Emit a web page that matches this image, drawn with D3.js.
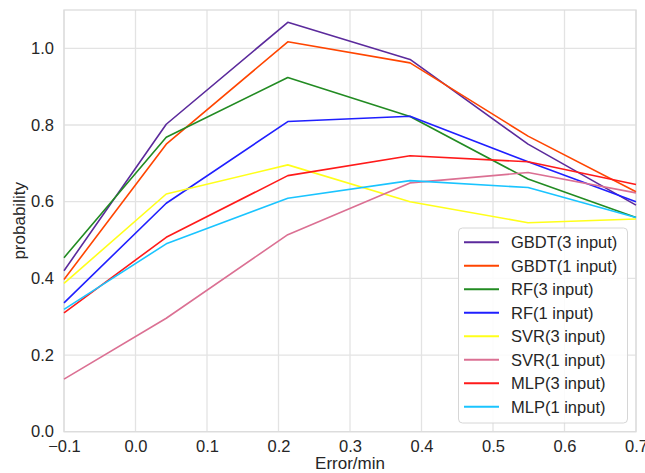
<!DOCTYPE html>
<html>
<head>
<meta charset="utf-8">
<script src="https://cdn.jsdelivr.net/npm/d3@7"></script>
<style>
html,body{margin:0;padding:0;background:#fff;}
text{font-family:"Liberation Sans",Arial,sans-serif;fill:#262626;}
</style>
</head>
<body>
<svg id="chart" width="645" height="473"></svg>
<script>
const xValues = [-0.1, 0.043, 0.213, 0.384, 0.549, 0.7];
const seriesNames = ["GBDT(3 input)","GBDT(1 input)","RF(3 input)","RF(1 input)","SVR(3 input)","SVR(1 input)","MLP(3 input)","MLP(1 input)"];
const gbdt3 = [0.420, 0.802, 1.068, 0.971, 0.750, 0.591];
const gbdt1 = [0.397, 0.750, 1.017, 0.962, 0.771, 0.626];
const rf3   = [0.454, 0.768, 0.924, 0.822, 0.659, 0.559];
const rf1   = [0.336, 0.596, 0.809, 0.823, 0.704, 0.600];
const svr3  = [0.387, 0.620, 0.696, 0.600, 0.545, 0.555];
const svr1  = [0.137, 0.296, 0.514, 0.649, 0.676, 0.623];
const mlp3  = [0.310, 0.507, 0.668, 0.720, 0.704, 0.645];
const mlp1  = [0.319, 0.490, 0.609, 0.655, 0.637, 0.559];
const xTicks = [-0.1, 0.0, 0.1, 0.2, 0.3, 0.4, 0.5, 0.6, 0.7];
const yTicks = [0.0, 0.2, 0.4, 0.6, 0.8, 1.0];
const colors = ["#5b2a9c","#ff4500","#228b22","#1f1fff","#ffff1a","#db7093","#ff1a1a","#1ac4ff"];

const seriesValues = [gbdt3, gbdt1, rf3, rf1, svr3, svr1, mlp3, mlp1];
const series = seriesNames.map((n,i)=>({name:n, color:colors[i], values:seriesValues[i].map((v,j)=>({x:xValues[j], y:v}))}));

const svg = d3.select("#chart");
const mLeft = 64, mRight = 636, mTop = 10, mBottom = 431.7;
const x = d3.scaleLinear().domain([-0.1, 0.7]).range([mLeft, mRight]);
const y = d3.scaleLinear().domain([0, 1.1]).range([mBottom, mTop]);

// grid
const g = svg.append("g");
g.selectAll(".vg").data(xTicks).enter().append("line")
  .attr("x1", d=>x(d)).attr("x2", d=>x(d)).attr("y1", mTop).attr("y2", mBottom)
  .attr("stroke", "#e3e3e3").attr("stroke-width", 1.3);
g.selectAll(".hg").data(yTicks).enter().append("line")
  .attr("x1", mLeft).attr("x2", mRight).attr("y1", d=>y(d)).attr("y2", d=>y(d))
  .attr("stroke", "#e3e3e3").attr("stroke-width", 1.3);
// frame
g.append("rect").attr("x", mLeft).attr("y", mTop).attr("width", mRight-mLeft).attr("height", mBottom-mTop)
  .attr("fill", "none").attr("stroke", "#dcdcdc").attr("stroke-width", 1.3);

// axes
const fmt = d3.format(".1f");
const xAxis = svg.append("g").attr("transform", `translate(0,${mBottom})`)
  .call(d3.axisBottom(x).tickValues(xTicks).tickFormat(fmt).tickSize(0).tickPadding(9));
const yAxis = svg.append("g").attr("transform", `translate(${mLeft},0)`)
  .call(d3.axisLeft(y).tickValues(yTicks).tickFormat(fmt).tickSize(0).tickPadding(10));
[xAxis, yAxis].forEach(a => { a.select(".domain").remove(); a.selectAll("text").style("font-size","16.5px").attr("fill","#262626").style("font-family","'Liberation Sans',Arial,sans-serif"); });

// labels
svg.append("text").attr("x", (mLeft+mRight)/2).attr("y", 469).attr("text-anchor","middle")
  .style("font-size","17px").text("Error/min");
svg.append("text").attr("transform", `translate(25,${(mTop+mBottom)/2}) rotate(-90)`).attr("text-anchor","middle")
  .style("font-size","17px").text("probability");

// lines
const line = d3.line().x(d=>x(d.x)).y(d=>y(d.y));
svg.append("g").selectAll("path").data(series).enter().append("path")
  .attr("d", d=>line(d.values)).attr("fill","none").attr("stroke", d=>d.color).attr("stroke-width", 1.6)
  .attr("stroke-linejoin","round");

// legend
const lg = svg.append("g");
lg.append("rect").attr("x", 458.5).attr("y", 228).attr("width", 169).attr("height", 195).attr("rx", 4)
  .attr("fill", "rgba(255,255,255,0.85)").attr("stroke", "#d6d6d6").attr("stroke-width", 1);
const items = lg.selectAll(".item").data(series).enter().append("g")
  .attr("transform", (d,i)=>`translate(0,${242.3 + i*23.5})`);
items.append("line").attr("x1", 464).attr("x2", 499).attr("y1", 0).attr("y2", 0)
  .attr("stroke", d=>d.color).attr("stroke-width", 2);
items.append("text").attr("x", 511).attr("y", 0).attr("dy", "0.35em").style("font-size","16.5px").text(d=>d.name);
</script>
</body>
</html>
